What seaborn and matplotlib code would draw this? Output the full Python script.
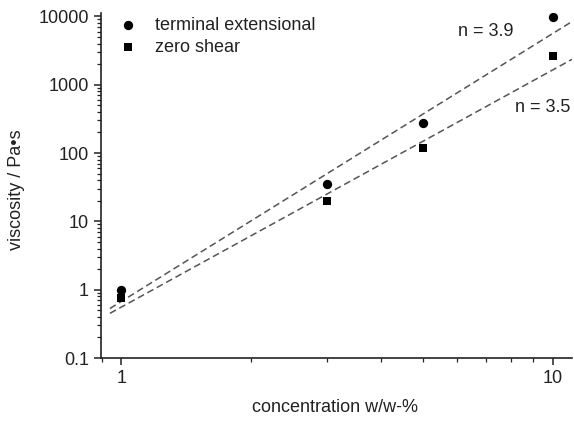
import matplotlib
matplotlib.use("Agg")
import matplotlib.pyplot as plt
import seaborn as sns
import pandas as pd
from matplotlib.ticker import LogLocator, FixedLocator, NullFormatter, FixedFormatter

sns.set_style("ticks")
plt.rcParams['font.family'] = ['Liberation Sans', 'DejaVu Sans']

# data
concentration = [1, 3, 5, 10]
terminal_extensional = [1.0, 35, 275, 9800]
zero_shear = [0.76, 20, 120, 2600]

# fitted power-law lines (endpoints)
fit_x = [0.94, 11.07]
fit_ext = [0.53, 8400]
fit_zero = [0.45, 2350]
labels_n = ["n = 3.9", "n = 3.5"]

x_ticks = [1, 10]
y_ticks = [0.1, 1, 10, 100, 1000, 10000]
y_ticklabels = ["0.1", "1", "10", "100", "1000", "10000"]

fig = plt.figure(figsize=(5.74, 4.21), dpi=100)
ax = fig.add_axes([0.1754, 0.1496, 0.8211, 0.8195])

ax.set_xscale('log')
ax.set_yscale('log')

sns.lineplot(x=fit_x, y=fit_ext, ax=ax, color='#555555', lw=1.1,
             linestyle=(0, (4.5, 2.5)), legend=False)
sns.lineplot(x=fit_x, y=fit_zero, ax=ax, color='#555555', lw=1.1,
             linestyle=(0, (4.5, 2.5)), legend=False)

df = pd.DataFrame({"c": concentration, "ext": terminal_extensional, "zero": zero_shear})
sns.scatterplot(data=df, x="c", y="ext", ax=ax, marker='o', s=45, color='black',
                edgecolor='black', linewidth=0, label='terminal extensional', zorder=5)
sns.scatterplot(data=df, x="c", y="zero", ax=ax, marker='s', s=38, color='black',
                edgecolor='black', linewidth=0, label='zero shear', zorder=5)

ax.set_xlim(0.895, 11.07)
ax.set_ylim(0.1, 11200)

ax.xaxis.set_major_locator(FixedLocator(x_ticks))
ax.xaxis.set_major_formatter(FixedFormatter([str(v) for v in x_ticks]))
ax.xaxis.set_minor_locator(LogLocator(base=10, subs=range(2, 10)))
ax.xaxis.set_minor_formatter(NullFormatter())
ax.yaxis.set_major_locator(FixedLocator(y_ticks))
ax.yaxis.set_major_formatter(FixedFormatter(y_ticklabels))
ax.yaxis.set_minor_locator(LogLocator(base=10, subs=range(2, 10)))
ax.yaxis.set_minor_formatter(NullFormatter())

ax.tick_params(which='major', direction='out', length=5, width=1.1, labelsize=13,
               color='#222222', labelcolor='#222222')
ax.tick_params(which='minor', direction='out', length=3, width=0.9, color='#222222')

for s in ['top', 'right']:
    ax.spines[s].set_visible(False)
for s in ['left', 'bottom']:
    ax.spines[s].set_linewidth(1.2)
    ax.spines[s].set_color('#222222')

ax.set_xlabel("concentration w/w-%", fontsize=13, color='#222222', va='center')
ax.set_ylabel("viscosity / Pa•s", fontsize=13, color='#222222', va='center', ha='center')
ax.xaxis.set_label_coords((335 - 100.7) / 471.3, -(407 - 358) / 345)
ax.yaxis.set_label_coords(-(100.7 - 17) / 471.3, (358 - 190) / 345)

ax.text(458, 421 - 32, labels_n[0], transform=None, fontsize=13, color='#222222',
        ha='left', va='center')
ax.text(515, 421 - 107, labels_n[1], transform=None, fontsize=13, color='#222222',
        ha='left', va='center')

leg = ax.legend(loc='upper left', bbox_to_anchor=(0.024, 1.01), frameon=False,
                fontsize=13, handletextpad=1.0, labelspacing=0.3, handlelength=1.0,
                borderaxespad=0)
for t in leg.get_texts():
    t.set_color('#222222')

fig.savefig("out.png", dpi=100, facecolor='white')
